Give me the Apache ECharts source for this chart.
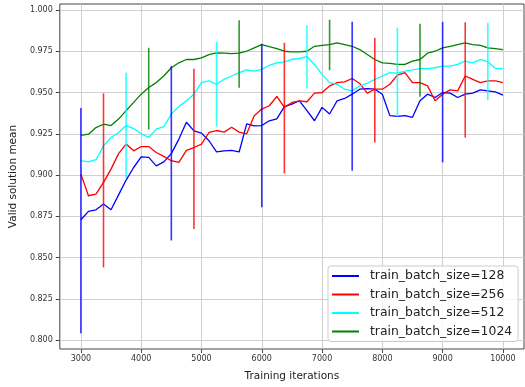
<!DOCTYPE html>
<html>
<head>
<meta charset="utf-8">
<script src="https://cdn.jsdelivr.net/npm/echarts@6/dist/echarts.min.js"></script>
<style>
  html, body { margin: 0; padding: 0; background: #ffffff; }
  #chart { width: 525px; height: 387px; }
</style>
</head>
<body>
<div id="chart"></div>
<script>
// Training iterations at which the smoothed curves are sampled
const iterations = [3000,3125,3250,3375,3500,3625,3750,3875,4000,4125,4250,4375,4500,4625,4750,4875,
  5000,5125,5250,5375,5500,5625,5750,5875,6000,6125,6250,6375,6500,6625,6750,6875,
  7000,7125,7250,7375,7500,7625,7750,7875,8000,8125,8250,8375,8500,8625,8750,8875,
  9000,9125,9250,9375,9500,9625,9750,9875,10000];

// Valid solution mean per batch size
const mean128 = [0.873,0.878,0.879,0.8825,0.879,0.888,0.897,0.9046,0.911,0.9107,0.9056,0.908,0.913,0.9218,0.932,0.9268,
  0.9254,0.9208,0.914,0.9147,0.915,0.914,0.931,0.9298,0.930,0.9329,0.934,0.9415,0.943,0.945,0.939,0.9329,
  0.941,0.937,0.945,0.9464,0.949,0.952,0.9524,0.952,0.949,0.936,0.9355,0.936,0.935,0.945,0.949,0.947,
  0.950,0.9496,0.947,0.949,0.9496,0.9516,0.951,0.9504,0.9484];
const mean256 = [0.9006,0.8875,0.8885,0.8956,0.9036,0.913,0.9188,0.9147,0.9173,0.9173,0.9137,0.9113,0.9087,0.9077,0.915,0.9167,
  0.9188,0.9258,0.927,0.926,0.929,0.926,0.925,0.936,0.940,0.942,0.9476,0.941,0.944,0.945,0.9444,0.9496,
  0.950,0.954,0.956,0.9564,0.9585,0.9555,0.9496,0.952,0.952,0.955,0.9605,0.962,0.956,0.956,0.954,0.945,
  0.949,0.9516,0.951,0.960,0.958,0.956,0.957,0.957,0.956];
const mean512 = [0.9087,0.908,0.9093,0.9177,0.9228,0.9258,0.930,0.9282,0.925,0.9228,0.9278,0.9294,0.9369,0.9415,0.945,0.949,
  0.956,0.957,0.955,0.958,0.960,0.962,0.9637,0.963,0.964,0.9665,0.968,0.9686,0.970,0.9706,0.9718,0.967,
  0.961,0.956,0.955,0.952,0.951,0.954,0.9556,0.958,0.960,0.962,0.9617,0.963,0.9637,0.9645,0.9645,0.965,
  0.966,0.966,0.967,0.969,0.968,0.970,0.9686,0.9645,0.9645];
const mean1024 = [0.924,0.9248,0.9288,0.9308,0.930,0.9339,0.939,0.944,0.949,0.953,0.956,0.960,0.965,0.968,0.970,0.970,
  0.971,0.973,0.974,0.9738,0.9736,0.9738,0.975,0.977,0.979,0.9778,0.9766,0.975,0.9746,0.9746,0.975,0.978,
  0.9786,0.979,0.980,0.979,0.978,0.976,0.973,0.970,0.968,0.9677,0.967,0.967,0.969,0.970,0.9738,0.975,
  0.977,0.978,0.979,0.980,0.979,0.9786,0.977,0.9766,0.976];

// Spread bars: iteration, lower end, upper end
const err128X = [3000,4500,6000,7500,9000];
const err128Lo = [0.8042,0.8604,0.8805,0.9026,0.9077];
const err128Hi = [0.9406,0.9660,0.9795,0.9928,0.9928];
const err256X = [3375,4875,6375,7875,9375];
const err256Lo = [0.8441,0.8674,0.9010,0.9197,0.9227];
const err256Hi = [0.9495,0.9644,0.9801,0.9831,0.9925];
const err512X = [3750,5250,6750,8250,9750];
const err512Lo = [0.8984,0.9294,0.9525,0.9354,0.9454];
const err512Hi = [0.9620,0.9807,0.9907,0.9893,0.9922];
const err1024X = [4125,5625,7125,8625];
const err1024Lo = [0.9276,0.9529,0.9635,0.9475];
const err1024Hi = [0.9771,0.9937,0.9941,0.9916];

const seriesNames = ['train_batch_size=128','train_batch_size=256','train_batch_size=512','train_batch_size=1024'];
const xTicks = [3000,4000,5000,6000,7000,8000,9000,10000];
const yTicks = [0.800,0.825,0.850,0.875,0.900,0.925,0.950,0.975,1.000];

const colors = ['#0000ff','#ff0000','#00ffff','#008000'];
const means = [mean128, mean256, mean512, mean1024];
const errs = [
  [err128X, err128Lo, err128Hi],
  [err256X, err256Lo, err256Hi],
  [err512X, err512Lo, err512Hi],
  [err1024X, err1024Lo, err1024Hi]
];

const FONT = 'DejaVu Sans';
const chart = echarts.init(document.getElementById('chart'), null, { renderer: 'canvas' });

const series = [];
means.forEach((m, i) => {
  series.push({
    name: seriesNames[i],
    type: 'line',
    data: iterations.map((x, k) => [x, m[k]]),
    showSymbol: false,
    symbol: 'none',
    smooth: false,
    lineStyle: { color: colors[i], width: 1.3 },
    itemStyle: { color: colors[i] },
    z: 2 + i,
    animation: false
  });
});
errs.forEach((e, i) => {
  const [xs, lo, hi] = e;
  series.push({
    name: 'spread_' + i,
    type: 'custom',
    data: xs.map((x, k) => [x, lo[k], hi[k]]),
    renderItem: (params, api) => {
      const p1 = api.coord([api.value(0), api.value(1)]);
      const p2 = api.coord([api.value(0), api.value(2)]);
      return {
        type: 'line',
        shape: { x1: p1[0], y1: p1[1], x2: p2[0], y2: p2[1] },
        style: { stroke: colors[i], lineWidth: 1.6, opacity: 0.8 }
      };
    },
    encode: { x: 0, y: [1, 2] },
    z: 6,
    animation: false
  });
});

chart.setOption({
  backgroundColor: '#ffffff',
  animation: false,
  grid: {
    left: 58, top: 4, width: 466, height: 348,
    show: true, borderColor: '#444', borderWidth: 1, backgroundColor: '#ffffff'
  },
  xAxis: {
    type: 'value',
    min: 2650, max: 10350,
    name: 'Training iterations',
    nameLocation: 'middle',
    nameGap: 22,
    nameTextStyle: { fontFamily: FONT, fontSize: 10.5, color: '#222' },
    axisLine: { show: false },
    axisTick: { show: true, length: 4, lineStyle: { color: '#444' }, customValues: xTicks },
    axisLabel: { fontFamily: FONT, fontSize: 8, color: '#333', margin: 6, customValues: xTicks,
      formatter: v => String(Math.round(v)) },
    splitLine: { show: true, lineStyle: { color: '#d0d0d0', width: 1 } }
  },
  yAxis: {
    type: 'value',
    min: 0.7947, max: 1.0036,
    name: 'Valid solution mean',
    nameLocation: 'middle',
    nameGap: 33,
    nameTextStyle: { fontFamily: FONT, fontSize: 10.5, color: '#222' },
    axisLine: { show: false },
    axisTick: { show: true, length: 4, lineStyle: { color: '#444' }, customValues: yTicks },
    axisLabel: { fontFamily: FONT, fontSize: 8, color: '#333', margin: 7, customValues: yTicks,
      formatter: v => v.toFixed(3) },
    splitLine: { show: true, lineStyle: { color: '#d0d0d0', width: 1 } }
  },
  legend: {
    data: seriesNames,
    orient: 'vertical',
    left: 328, top: 266,
    itemWidth: 27, itemHeight: 2,
    itemGap: 6.5,
    icon: 'rect',
    padding: [4, 6, 4, 4],
    backgroundColor: 'rgba(255,255,255,0.85)',
    borderColor: '#cccccc', borderWidth: 1, borderRadius: 3,
    textStyle: { fontFamily: FONT, fontSize: 12.4, color: '#222', padding: [0, 0, 0, 6] }
  },
  series: series
});
</script>
</body>
</html>
